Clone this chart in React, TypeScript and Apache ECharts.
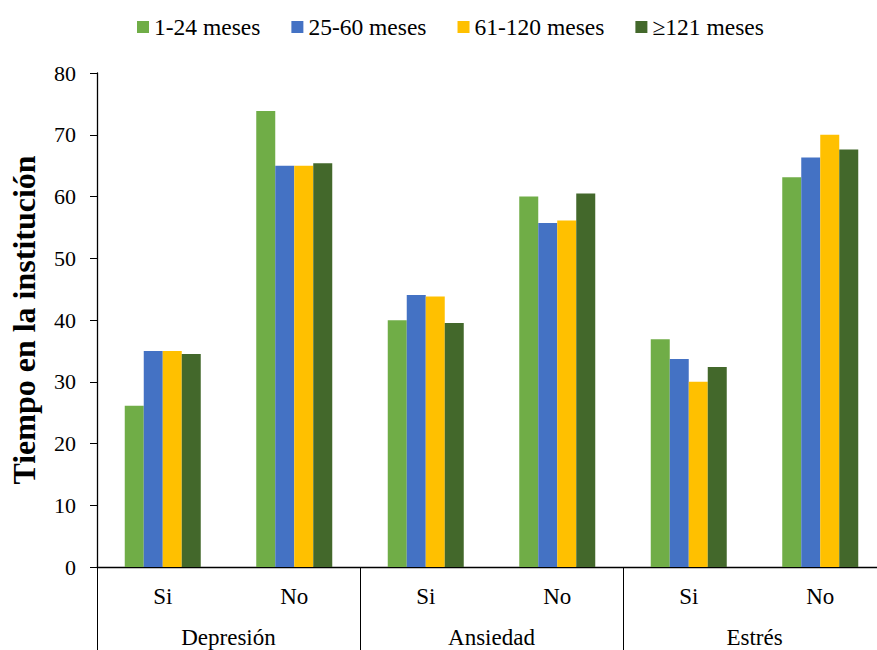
import React, { useEffect, useRef } from "react";
import * as echarts from "echarts";

const categories = ["Si", "No", "Si", "No", "Si", "No"];
const groups = ["Depresión", "Ansiedad", "Estrés"];
const seriesNames = ["1-24 meses", "25-60 meses", "61-120 meses", "≥121 meses"];
const colors = ["#70AD47", "#4472C4", "#FFC000", "#43682B"];
const s1 = [26.1, 73.85, 39.95, 60.0, 36.9, 63.1];
const s2 = [35.0, 65.0, 44.05, 55.7, 33.7, 66.3];
const s3 = [35.0, 65.0, 43.8, 56.1, 30.0, 70.0];
const s4 = [34.5, 65.4, 39.5, 60.5, 32.4, 67.6];
const yTicks = [0, 10, 20, 30, 40, 50, 60, 70, 80];

const FONT = "Liberation Serif";

export default function App() {
  const ref = useRef<HTMLDivElement>(null);
  useEffect(() => {
    const chart = echarts.init(ref.current!, null, { renderer: "svg" });
    const data = [s1, s2, s3, s4];
    chart.setOption({
      animation: false,
      textStyle: { fontFamily: FONT },
      legend: {
        top: 10,
        left: 132,
        itemWidth: 12,
        itemHeight: 12,
        itemGap: 31,
        icon: "rect",
        textStyle: { fontFamily: FONT, fontSize: 23.5, color: "#000" },
        data: seriesNames,
      },
      grid: { left: 95, right: 14, top: 73, bottom: 103, containLabel: false },
      xAxis: [
        {
          type: "category",
          data: categories,
          position: "bottom",
          axisLine: { show: true, lineStyle: { color: "#000", width: 1.3 } },
          axisTick: { show: false },
          axisLabel: { margin: 18, fontFamily: FONT, fontSize: 23, color: "#000" },
        },
        {
          type: "category",
          data: groups,
          position: "bottom",
          axisLine: { show: false },
          axisTick: { show: true, length: 100, lineStyle: { color: "#000", width: 1 } },
          axisLabel: { margin: 59, fontFamily: FONT, fontSize: 23, color: "#000" },
        },
      ],
      yAxis: {
        type: "value",
        min: 0,
        max: 80,
        interval: 10,
        name: "Tiempo en la institución",
        nameLocation: "middle",
        nameGap: 57,
        nameTextStyle: { fontFamily: FONT, fontSize: 32, fontWeight: "bold", color: "#000" },
        axisLine: { show: true, lineStyle: { color: "#000", width: 1.3 } },
        axisTick: { show: true, length: 7, lineStyle: { color: "#000" } },
        axisLabel: {
          margin: 21,
          fontFamily: FONT,
          fontSize: 22,
          color: "#000",
          formatter: (v: number) => (yTicks.includes(v) ? String(v) : ""),
        },
        splitLine: { show: false },
      },
      series: seriesNames.map((name, i) => ({
        name,
        type: "bar",
        xAxisIndex: 0,
        data: data[i],
        barWidth: 19,
        barGap: "0%",
        itemStyle: { color: colors[i] },
      })),
    });
    return () => chart.dispose();
  }, []);
  return (
    <div style={{ position: "absolute", left: 0, top: 0, width: 877, height: 650, overflow: "hidden" }}>
      <div ref={ref} style={{ width: 900, height: 670 }} />
    </div>
  );
}
